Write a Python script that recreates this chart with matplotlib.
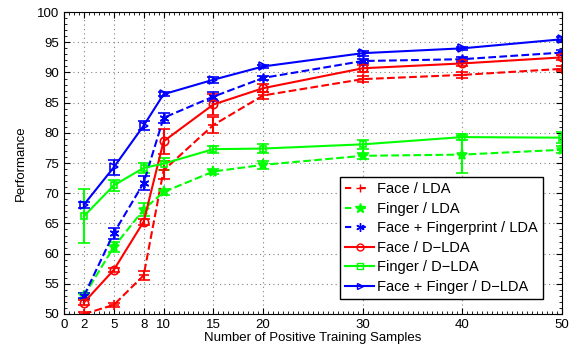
import matplotlib.pyplot as plt
from matplotlib.lines import Line2D
import numpy as np

plt.rcParams["font.family"] = ["Liberation Sans", "DejaVu Sans"]
plt.rcParams["font.size"] = 9.5

samples = [2, 5, 8, 10, 15, 20, 30, 40, 50]

face_lda = [50.0, 51.5, 56.4, 73.8, 81.3, 86.2, 88.9, 89.6, 90.6]
face_lda_err = [0.3, 0.4, 0.7, 1.5, 1.3, 0.6, 0.5, 0.5, 0.4]
finger_lda = [53.0, 61.1, 67.3, 70.2, 73.6, 74.7, 76.2, 76.4, 77.2]
finger_lda_err = [0.5, 0.8, 1.1, 0.5, 0.4, 0.7, 0.5, 3.1, 0.6]
fusion_lda = [53.0, 63.4, 71.7, 82.5, 86.0, 89.1, 91.9, 92.2, 93.3]
fusion_lda_err = [0.4, 0.9, 1.1, 0.8, 0.7, 0.4, 0.4, 0.4, 0.4]
face_dlda = [51.9, 57.3, 65.3, 78.6, 84.7, 87.4, 90.7, 91.5, 92.5]
face_dlda_err = [0.4, 0.4, 0.5, 2.1, 1.8, 0.7, 0.6, 0.5, 0.4]
finger_dlda = [66.2, 71.3, 74.2, 74.9, 77.3, 77.4, 78.1, 79.3, 79.2]
finger_dlda_err = [4.5, 0.9, 0.8, 1.0, 0.6, 0.7, 0.7, 0.5, 0.9]
fusion_dlda = [68.1, 74.3, 81.2, 86.4, 88.8, 91.0, 93.2, 94.0, 95.5]
fusion_dlda_err = [0.5, 1.2, 0.8, 0.3, 0.5, 0.3, 0.4, 0.3, 0.3]

asterisk = (6, 2, 0)
series = [
    ("Face / LDA", face_lda, face_lda_err, "r", "--", "+", 7),
    ("Finger / LDA", finger_lda, finger_lda_err, "#00ff00", "--", "*", 8),
    ("Face + Fingerprint / LDA", fusion_lda, fusion_lda_err, "b", "--", asterisk, 7),
    ("Face / D\u2212LDA", face_dlda, face_dlda_err, "r", "-", "o", 6),
    ("Finger / D\u2212LDA", finger_dlda, finger_dlda_err, "#00ff00", "-", "s", 5),
    ("Face + Finger / D\u2212LDA", fusion_dlda, fusion_dlda_err, "b", "-", ">", 6),
]

fig = plt.figure(figsize=(5.73, 3.56), dpi=100)
ax = fig.add_axes([0.1117, 0.118, 0.869, 0.848])

handles = []
for label, vals, err, color, ls, marker, ms in series:
    fill = "none" if ls == "-" else color
    ax.errorbar(samples, vals, yerr=err, color=color, linestyle=ls, marker=marker,
                markersize=ms, markerfacecolor=fill, markeredgewidth=1.2,
                linewidth=1.5, capsize=4, elinewidth=1.5, capthick=1.5)
    h = Line2D([], [], color=color, linestyle=ls, marker=marker, markersize=ms - 1,
               markerfacecolor=fill, markeredgewidth=1.0, linewidth=1.5)
    if ls == "--":
        h.set_dashes((3, 4))
    handles.append(h)

ax.set_xlim(0, 50)
ax.set_ylim(50, 100)
ax.set_xticks([0, 2, 5, 8, 10, 15, 20, 30, 40, 50])
ax.set_yticks(np.arange(50, 101, 5))
ax.minorticks_on()
ax.tick_params(which="both", direction="in", top=True, right=True)
ax.tick_params(which="major", length=4)
ax.tick_params(which="minor", length=2)
ax.grid(True, which="major", linestyle=(0, (1, 3)), color="0.5", linewidth=0.8)
ax.set_xlabel("Number of Positive Training Samples", labelpad=1)
ax.set_ylabel("Performance", labelpad=7)

leg = ax.legend(handles, [s[0] for s in series], loc="lower right",
                bbox_to_anchor=(0.962, 0.05), fancybox=False, edgecolor="k",
                framealpha=1, fontsize=10.5, borderpad=0.35, labelspacing=0.38,
                handlelength=2.0, handletextpad=0.2, borderaxespad=0)
leg.get_frame().set_linewidth(1.0)

fig.savefig("out.png")
